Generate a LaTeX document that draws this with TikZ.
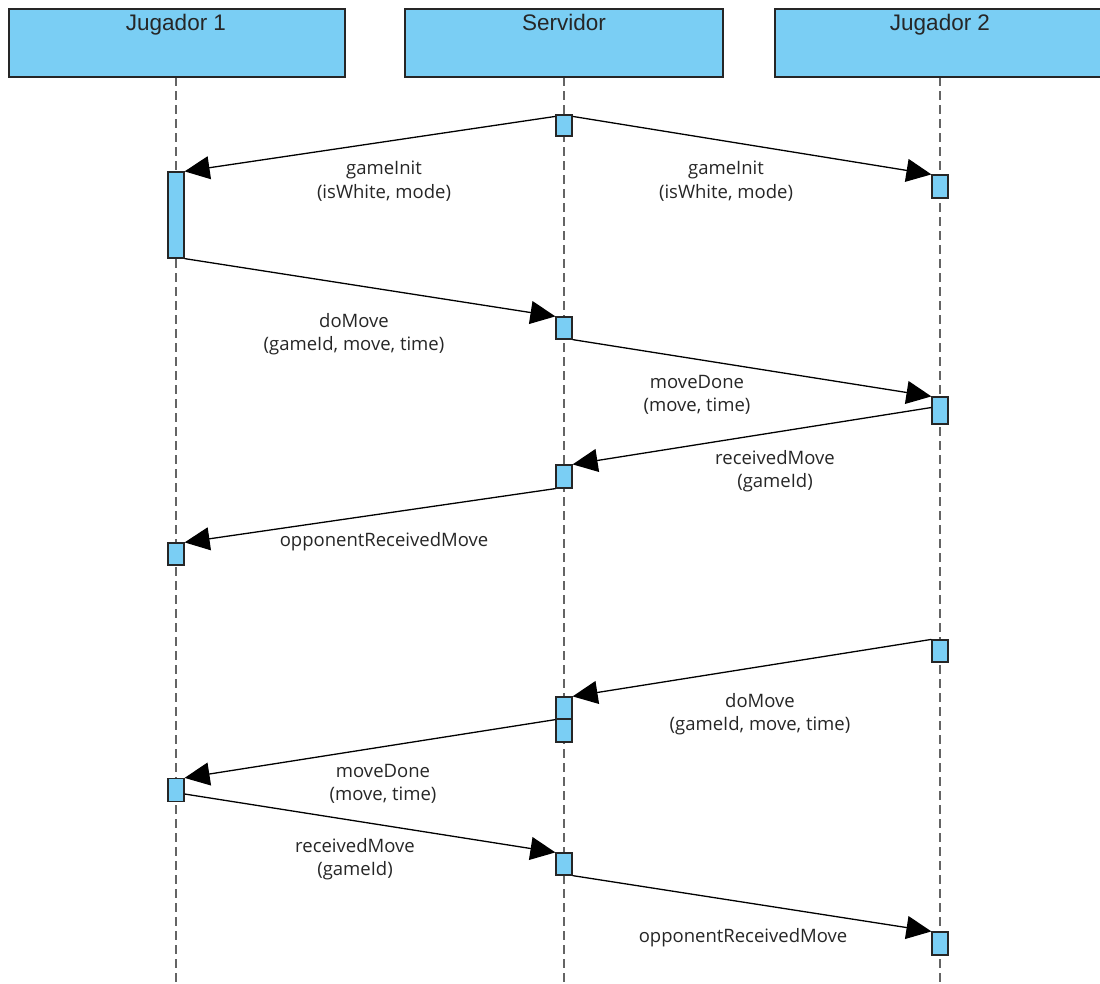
\documentclass[tikz,border=0pt]{standalone}
\usepackage{fontspec}
\setmainfont{Liberation Sans}
\newfontfamily\msgfont{Open Sans}
\usetikzlibrary{arrows.meta}
\definecolor{lifeblue}{RGB}{122,206,244}
\definecolor{lifegray}{RGB}{100,100,100}

\begin{document}
\begin{tikzpicture}[x=1pt, y=-1pt,
    header/.style={draw=black!85, line width=1.4pt, fill=lifeblue, minimum height=68pt, inner sep=0pt},
    hdrtext/.style={anchor=base, font=\fontsize{22.5}{26}\selectfont, text=black!85},
    lifeline/.style={draw=lifegray, line width=2pt, dash pattern=on 9pt off 5pt},
    act/.style={draw=black!85, line width=1.2pt, fill=lifeblue, minimum width=16pt, inner sep=0pt, minimum height=#1},
    msg/.style={-{Triangle[length=25pt,width=23pt]}, line width=1.3pt},
    msglbl/.style={align=center, inner sep=0pt, text=black!85, font=\msgfont\fontsize{18.5}{23.5}\selectfont}]
    \useasboundingbox (0,0) rectangle (1100,983);
    \clip (0,0) rectangle (1100,983);
    % Lifelines
    \coordinate (e1) at (176,983);
    \coordinate (e2) at (564,983);
    \coordinate (e3) at (940,983);
    \draw[lifeline] (176,77) -- (e1);
    \draw[lifeline] (564,77) -- (e2);
    \draw[lifeline] (940,77) -- (e3);
    % Header boxes
    \node[header, minimum width=336pt] (j1) at (177,43) {};
    \node[header, minimum width=318pt] (srv) at (564,43) {};
    \node[header, minimum width=340pt] (j2) at (945,43) {};
    \node[hdrtext] (j1t) at (176,30) {Jugador 1};
    \node[hdrtext] (srvt) at (564,30) {Servidor};
    \node[hdrtext] (j2t) at (940,30) {Jugador 2};
    % Activation boxes, Jugador 1
    \node[act=86pt] (a1) at (176,215) {};
    \node[act=22pt] (a2) at (176,554) {};
    \node[act=23pt] (a3) at (176,790) {};
    % Activation boxes, Servidor
    \node[act=21pt] (s1) at (564,125.5) {};
    \node[act=22pt] (s2) at (564,328) {};
    \node[act=23pt] (s3) at (564,476.5) {};
    \node[act=22pt] (s4) at (564,708) {};
    \node[act=23pt] (s5) at (564,730.5) {};
    \node[act=22pt] (s6) at (564,864) {};
    % Activation boxes, Jugador 2
    \node[act=23pt] (b1) at (940,186.5) {};
    \node[act=27pt] (b2) at (940,410.5) {};
    \node[act=22pt] (b3) at (940,651) {};
    \node[act=23pt] (b4) at (940,943.5) {};
    % Messages
    \draw[msg] ([yshift=-2pt]s1.north west) -- (a1.north east);
    \draw[msg] ([yshift=-2pt]s1.north east) -- (b1.north west);
    \draw[msg] (a1.south east) -- (s2.north west);
    \draw[msg] (s2.south east) -- (b2.north west);
    \draw[msg] ([yshift=3pt]b2.west) -- (s3.north east);
    \draw[msg] (s3.south west) -- (a2.north east);
    \draw[msg] (b3.north west) -- (s4.north east);
    \draw[msg] (s4.south west) -- (a3.north east);
    \draw[msg] ([yshift=-4pt]a3.east) -- (s6.north west);
    \draw[msg] (s6.south east) -- (b4.north west);
    % Message labels
    \node[msglbl] (l1) at (384,181) {gameInit\\(isWhite, mode)};
    \node[msglbl] (l2) at (726,181) {gameInit\\(isWhite, mode)};
    \node[msglbl] (l3) at (354,334) {doMove\\(gameId, move, time)};
    \node[msglbl] (l4) at (697,395) {moveDone\\(move, time)};
    \node[msglbl] (l5) at (775,471) {receivedMove\\(gameId)};
    \node[msglbl] (l6) at (384,542) {opponentReceivedMove};
    \node[msglbl] (l7) at (760,714) {doMove\\(gameId, move, time)};
    \node[msglbl] (l8) at (383,784) {moveDone\\(move, time)};
    \node[msglbl] (l9) at (355,859) {receivedMove\\(gameId)};
    \node[msglbl] (l10) at (743,938) {opponentReceivedMove};
\end{tikzpicture}
\end{document}
